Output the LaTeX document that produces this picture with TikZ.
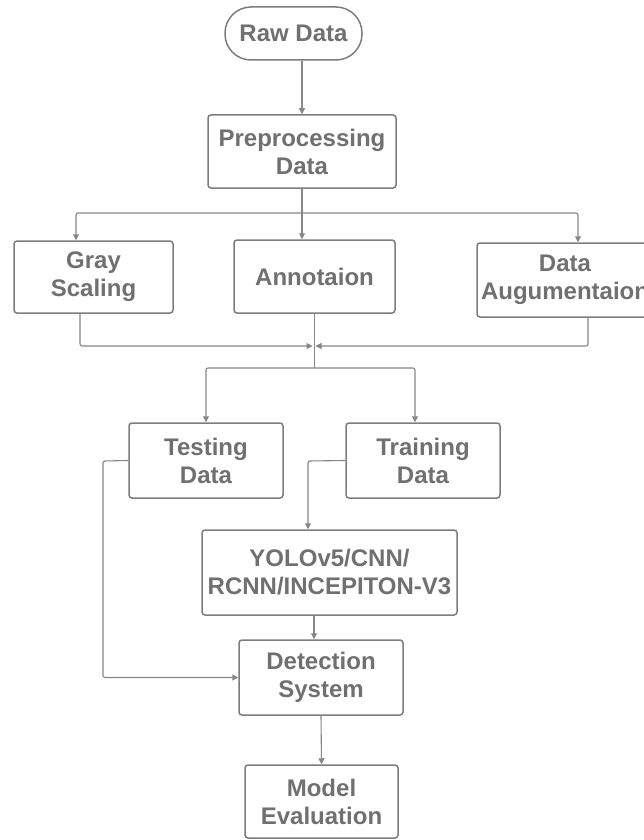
\documentclass[tikz,border=0pt]{standalone}
\usepackage{fontspec}
\setmainfont{Liberation Sans}
\usetikzlibrary{arrows.meta}
\definecolor{boxc}{RGB}{125,125,125}
\definecolor{txtc}{RGB}{112,112,112}
\definecolor{linec}{RGB}{135,135,135}
\tikzset{
  stepbox/.style={draw=boxc, line width=1.5pt, rounded corners=3pt, inner sep=0pt,
    align=center, text=txtc, font=\fontsize{24}{28}\selectfont\bfseries},
  conn/.style={draw=linec, line width=1.1pt, rounded corners=2pt},
  arr/.style={conn, -{Triangle[width=6pt,length=6pt]}},
}
\begin{document}
\begin{tikzpicture}[x=1pt,y=-1pt]
\useasboundingbox (0,0) rectangle (643,840);
\fill[white] (0,0) rectangle (643,840);
% nodes
\node[stepbox, rounded corners=26pt, minimum width=137pt, minimum height=53pt] (raw) at (293.5,33.5) {Raw Data};
\node[stepbox, minimum width=188pt, minimum height=73pt] (pre) at (302,151.5) {Preprocessing\\Data};
\node[stepbox, minimum width=159pt, minimum height=72pt] (gray) at (93.5,277) {Gray\\Scaling};
\node[stepbox, minimum width=161pt, minimum height=73pt] (ann) at (314.5,276.5) {Annotaion};
\node[stepbox, minimum width=176pt, minimum height=74pt] (da) at (565,280) {Data\\Augumentaion};
\node[stepbox, minimum width=154pt, minimum height=75pt] (test) at (206,460.5) {Testing\\Data};
\node[stepbox, minimum width=154pt, minimum height=75pt] (train) at (423,460.5) {Training\\Data};
\node[stepbox, minimum width=255pt, minimum height=85pt] (yolo) at (329.5,572.5) {YOLOv5/CNN/\\RCNN/INCEPITON-V3};
\node[stepbox, minimum width=164pt, minimum height=75pt] (det) at (321,677.5) {Detection\\System};
\node[stepbox, minimum width=153pt, minimum height=73pt] (model) at (321.5,801.5) {Model\\Evaluation};
% helper coordinates
\coordinate (sp1) at (302,213);
\coordinate (gA) at (76,213);
\coordinate (dA) at (578,213);
\coordinate (mg) at (314,346);
\coordinate (sp2) at (314.5,368);
\coordinate (trA) at (415,368);
\coordinate (tL) at (103,461);
\coordinate (trL) at (308,461);
\coordinate (yd) at (314,600);
% connectors
\draw[arr] (raw.south -| pre.north) -- (pre.north);
\draw[conn] (pre.south) -- (sp1);
\draw[arr] (sp1) -| (gA |- gray.north);
\draw[arr] (sp1) -- (sp1 |- ann.north);
\draw[arr] (sp1) -| (dA |- da.north);
\draw[arr] ([xshift=-13.5pt]gray.south) |- ([xshift=-1.5pt]mg);
\draw[arr] ([xshift=23pt]da.south) |- ([xshift=1.5pt]mg);
\draw[conn] (ann.south) -- (sp2);
\draw[arr] (sp2) -| (test.north);
\draw[arr] (sp2) -| (trA |- train.north);
\draw[arr] (test.west) -- (tL) |- (det.west);
\draw[arr] (train.west) -- (trL) -- (trL |- yolo.north);
\draw[arr] (yd |- yolo.south) -- (yd |- det.north);
\draw[arr] (det.south) -- (model.north);
\end{tikzpicture}
\end{document}
